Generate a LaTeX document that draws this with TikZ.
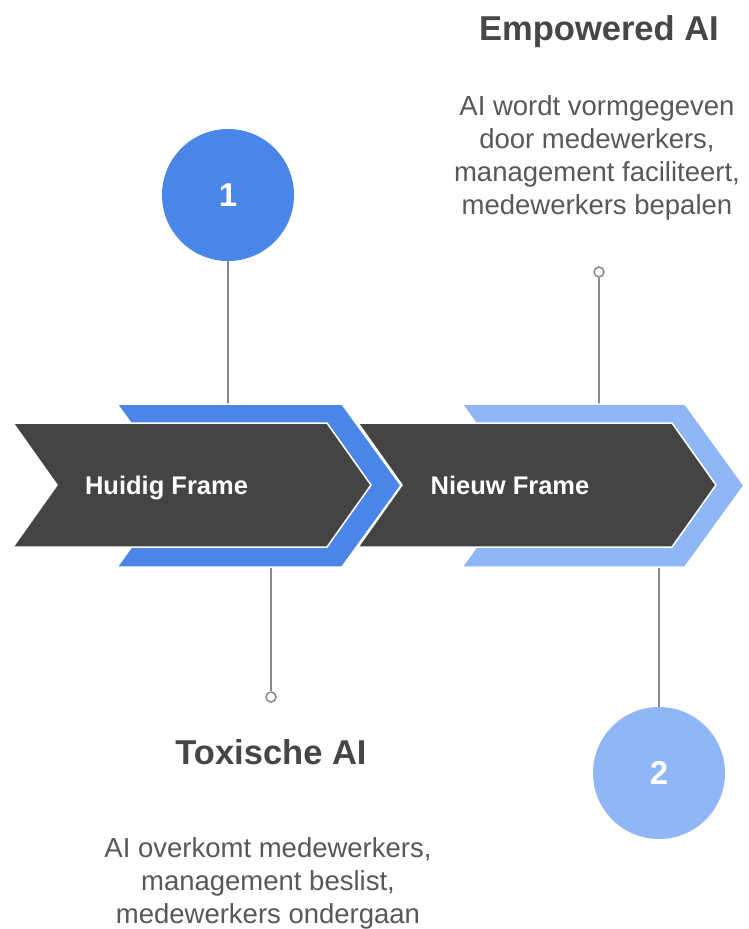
\documentclass[tikz,border=0pt]{standalone}
\usepackage{fontspec}
\setmainfont{Liberation Sans}
\begin{document}
\begin{tikzpicture}[x=1pt,y=-1pt,
  darkarrow/.style={fill=darkg,draw=white,line width=1.5pt,line join=miter},
  chev/.style={draw=white,line width=1.5pt},
  stem/.style={draw=stemg,line width=2pt},
  pin/.style={circle,draw=stemg,fill=white,line width=1.5pt,minimum size=10pt,inner sep=0pt},
  bigdot/.style={circle,minimum size=132pt,inner sep=0pt,text=white,font=\bfseries\fontsize{33}{33}\selectfont},
  title/.style={text=titleg,font=\bfseries\fontsize{34.5}{40}\selectfont,inner sep=0pt,anchor=base},
  body/.style={text=bodyg,font=\fontsize{27.5}{33}\selectfont,align=center,inner sep=0pt,anchor=base},
  label/.style={text=white,font=\bfseries\fontsize{25.5}{30}\selectfont,inner sep=0pt,anchor=base}]
\definecolor{darkg}{RGB}{68,68,68}
\definecolor{blueA}{RGB}{74,134,232}
\definecolor{blueB}{RGB}{143,183,248}
\definecolor{stemg}{RGB}{136,136,136}
\definecolor{titleg}{RGB}{70,70,70}
\definecolor{bodyg}{RGB}{88,88,88}
\useasboundingbox (0,0) rectangle (748,929);
\fill[white] (0,0) rectangle (748,929);

% circles and pins
\node[bigdot,fill=blueA] (c1) at (228,195) {1};
\node[bigdot,fill=blueB] (c2) at (659,773) {2};
\node[pin] (p1) at (599,272) {};
\node[pin] (p2) at (271,697) {};
\coordinate (s1) at (228,406);
\coordinate (s2) at (599,406);
\coordinate (s3) at (271,565);
\coordinate (s4) at (659,565);
\draw[stem] (c1) -- (s1);
\draw[stem] (p1) -- (s2);
\draw[stem] (s3) -- (p2);
\draw[stem] (s4) -- (c2);

% arrows, drawn right to left
\path[chev,fill=blueB] (462,404) -- (685,404) -- (744,485.5) -- (685,567) -- (462,567) -- (521,485.5) -- cycle;
\path[darkarrow] (358,423) -- (672,423) -- (716,485) -- (672,547) -- (358,547) -- (402,485) -- cycle;
\path[chev,fill=blueA] (117,404) -- (342,404) -- (401,485.5) -- (342,567) -- (117,567) -- (176,485.5) -- cycle;
\path[darkarrow] (13,423) -- (327,423) -- (371,485) -- (327,547) -- (13,547) -- (57,485) -- cycle;

\node[label] (f1) at (166.5,494) {Huidig Frame};
\node[label] (f2) at (510,494) {Nieuw Frame};

% texts
\node[title] (t1) at (599,40) {Empowered AI};
\node[body] (b1) at (597,214) {AI wordt vormgegeven\\door medewerkers,\\management faciliteert,\\medewerkers bepalen};
\node[title] (t2) at (271,764) {Toxische AI};
\node[body] (b2) at (268,923) {AI overkomt medewerkers,\\management beslist,\\medewerkers ondergaan};
\end{tikzpicture}
\end{document}
